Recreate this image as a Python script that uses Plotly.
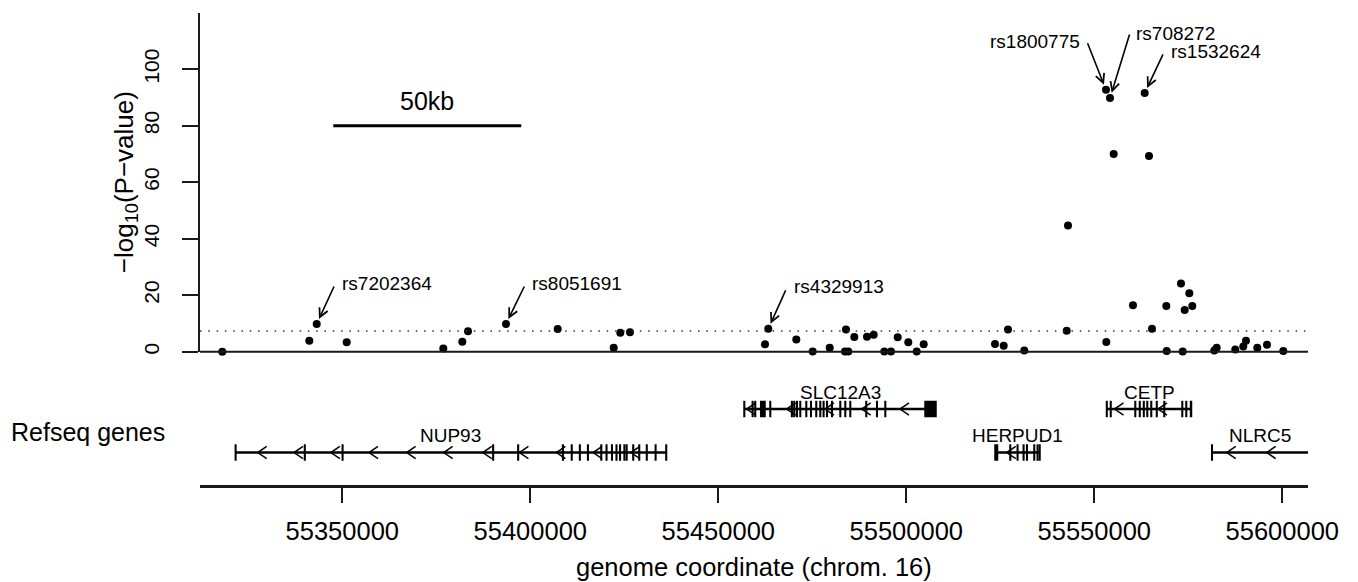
import plotly.graph_objects as go

# ---------------- data ----------------
snp_pos = [55318085, 55341223, 55343191, 55351170, 55376862, 55381915, 55383431, 55393537,
           55407287, 55422181, 55423936, 55426516, 55462420, 55463298, 55470745, 55475106,
           55479628, 55483963, 55483697, 55484574, 55486170, 55489548, 55491330, 55494149,
           55495931, 55497712, 55500532, 55502766, 55504628, 55523590, 55525904, 55527048,
           55531383, 55542660, 55543005, 55553192, 55553112, 55554176, 55555160, 55560293,
           55563404, 55564548, 55565346, 55569149, 55569255, 55573059, 55573511, 55574043,
           55575266, 55576064, 55581915, 55582553, 55587500, 55589628, 55590346, 55593351,
           55595931, 55600266]
snp_logp = [0.0, 3.9, 9.8, 3.3, 1.1, 3.5, 7.2, 9.8,
            8.0, 1.4, 6.7, 6.9, 2.6, 8.1, 4.3, 0.1,
            1.4, 7.9, 0.1, 0.1, 5.2, 5.3, 6.0, 0.1,
            0.1, 5.1, 3.3, 0.1, 2.6, 2.7, 2.1, 7.9,
            0.4, 7.4, 44.7, 3.4, 92.7, 89.8, 70.0, 16.4,
            91.6, 69.3, 8.1, 16.2, 0.25, 24.1, 0.1, 14.8,
            20.7, 16.2, 0.4, 1.4, 0.8, 1.8, 3.9, 1.4,
            2.5, 0.25]

label_snps = ["rs7202364", "rs8051691", "rs4329913", "rs1800775", "rs708272", "rs1532624"]
label_snp_pos = [55343191, 55393537, 55463298, 55553112, 55554176, 55563404]

significance = 7.3
scale_bar_start = 55347600
scale_bar_len = 50000
scale_bar_y = 80
scale_bar_text = "50kb"

x_ticks = [55350000, 55400000, 55450000, 55500000, 55550000, 55600000]
y_ticks = [0, 20, 40, 60, 80, 100]

gene_names = ["NUP93", "SLC12A3", "HERPUD1", "CETP", "NLRC5"]
gene_rows = [1, 2, 1, 2, 1]
gene_starts = [55321550, 55456840, 55523590, 55553250, 55581230]
gene_ends = [55436230, 55507900, 55535560, 55575850, 55607500]
gene_exons = {
    "NUP93": [(55321550, 55321700), (55339950, 55340100), (55350000, 55350150), (55390050, 55390200),
              (55396700, 55396850), (55408600, 55408750), (55410950, 55411100), (55413100, 55413250),
              (55415250, 55415400), (55418800, 55418950), (55420200, 55420350), (55421650, 55421800),
              (55422850, 55423000), (55423800, 55423950), (55424950, 55425100), (55425550, 55425700),
              (55427300, 55427450), (55428900, 55429050), (55430900, 55431050), (55433250, 55433400),
              (55436080, 55436230)],
    "SLC12A3": [(55456840, 55456990), (55459050, 55459200), (55459750, 55459900), (55461280, 55462420),
                (55463750, 55463900), (55469500, 55469650), (55470130, 55470280), (55470850, 55471000),
                (55471730, 55471880), (55473330, 55473480), (55474580, 55474730), (55475980, 55476130),
                (55477050, 55477200), (55477930, 55478080), (55478830, 55478980), (55480160, 55480310),
                (55482370, 55482520), (55483700, 55483850), (55485030, 55485180), (55489280, 55489430),
                (55492130, 55492280), (55494340, 55494490), (55504980, 55507900)],
    "HERPUD1": [(55523590, 55524260), (55527580, 55527730), (55529520, 55529670), (55531120, 55531270),
                (55532020, 55532170), (55533960, 55534110), (55534840, 55534990), (55535400, 55535560)],
    "CETP": [(55553250, 55553400), (55554300, 55554450), (55560830, 55560980), (55562020, 55562170),
             (55563090, 55563240), (55564020, 55564170), (55565080, 55565230), (55566540, 55566690),
             (55568540, 55568690), (55573330, 55573480), (55574390, 55574540), (55575600, 55575850)],
    "NLRC5": [(55581230, 55581380)],
}
gene_chevrons = {
    "NUP93": [55327500, 55337150, 55346950, 55357100, 55367100, 55376950, 55387350, 55397100,
              55406950, 55416700, 55426750],
    "SLC12A3": [55457550, 55468190, 55478380, 55488140, 55498330],
    "HERPUD1": [55526700],
    "CETP": [55555380, 55566940],
    "NLRC5": [55585220, 55595850],
}

# ---------------- style / layout constants ----------------
FONT = "Liberation Sans, Arial, Helvetica, sans-serif"
X_RANGE = [55312154, 55606838]
EXON_HALF = 0.172
CHEV_W = 2400
CHEV_H = 0.14
AXCOL = "#1a1a1a"

# label offsets (pixels): text shift, anchor, arrow tail
label_layout = {
    "rs7202364": dict(xs=23, ys=41, anchor="left", ax=18, ay=-39),
    "rs8051691": dict(xs=24, ys=41, anchor="left", ax=19, ay=-39),
    "rs4329913": dict(xs=24, ys=42, anchor="left", ax=18, ay=-40),
    "rs1800775": dict(xs=-24, ys=48, anchor="right", ax=-19, ay=-48),
    "rs708272": dict(xs=24, ys=65, anchor="left", ax=20, ay=-65),
    "rs1532624": dict(xs=24, ys=41, anchor="left", ax=19, ay=-40),
}

fig = go.Figure()

# association points
fig.add_trace(go.Scatter(
    x=snp_pos, y=snp_logp, mode="markers", xaxis="x", yaxis="y",
    marker=dict(color="black", size=8, line=dict(width=0)),
    cliponaxis=False, hoverinfo="x+y", showlegend=False))

# gene chevrons (strand direction)
cx, cy = [], []
for name, row in zip(gene_names, gene_rows):
    for c in gene_chevrons[name]:
        cx += [c + CHEV_W, c, c + CHEV_W, None]
        cy += [row + CHEV_H, row, row - CHEV_H, None]
fig.add_trace(go.Scatter(
    x=cx, y=cy, mode="lines", xaxis="x", yaxis="y2",
    line=dict(color="black", width=1.5), hoverinfo="skip", showlegend=False))

shapes = []
# zero line and significance line
shapes.append(dict(type="line", xref="paper", yref="y domain", x0=0, x1=1, y0=0, y1=0,
                   line=dict(color=AXCOL, width=2)))
shapes.append(dict(type="line", xref="paper", yref="y", x0=0, x1=1, y0=significance, y1=significance,
                   line=dict(color="#333333", width=1.5, dash="1.5px,6.8px")))
# scale bar
shapes.append(dict(type="line", xref="x", yref="y", x0=scale_bar_start, x1=scale_bar_start + scale_bar_len,
                   y0=scale_bar_y, y1=scale_bar_y, line=dict(color="black", width=3)))
# genes
for name, row, s, e in zip(gene_names, gene_rows, gene_starts, gene_ends):
    shapes.append(dict(type="line", xref="x", yref="y2", x0=s, x1=e, y0=row, y1=row,
                       line=dict(color="black", width=2.5)))
    for a, b in gene_exons[name]:
        shapes.append(dict(type="rect", xref="x", yref="y2", x0=a, x1=b,
                           y0=row - EXON_HALF, y1=row + EXON_HALF,
                           fillcolor="black", line=dict(color="black", width=1.5)))

annotations = []
logp_of = dict(zip(snp_pos, snp_logp))
for name, pos in zip(label_snps, label_snp_pos):
    L = label_layout[name]
    yv = logp_of[pos]
    annotations.append(dict(x=pos, y=yv, xref="x", yref="y", text="", showarrow=True,
                            ax=L["ax"], ay=L["ay"], axref="pixel", ayref="pixel",
                            arrowhead=5, arrowsize=1.1, arrowwidth=1.6, arrowcolor="black",
                            standoff=5.5))
    annotations.append(dict(x=pos, y=yv, xref="x", yref="y", text=name, showarrow=False,
                            xanchor=L["anchor"], yanchor="middle", xshift=L["xs"], yshift=L["ys"],
                            font=dict(size=19, color="black", family=FONT)))

annotations.append(dict(x=scale_bar_start + scale_bar_len / 2, y=scale_bar_y, xref="x", yref="y",
                        text=scale_bar_text, showarrow=False, yanchor="middle", yshift=25,
                        font=dict(size=25, color="black", family=FONT)))

for name, row, s, e in zip(gene_names, gene_rows, gene_starts, gene_ends):
    mid = (max(s, X_RANGE[0]) + min(e, X_RANGE[1])) / 2
    annotations.append(dict(x=mid, y=row, xref="x", yref="y2", text=name, showarrow=False,
                            yanchor="middle", yshift=17,
                            font=dict(size=19, color="black", family=FONT)))

annotations.append(dict(x=0, y=1.47, xref="paper", yref="y2", text="Refseq genes", showarrow=False,
                        xanchor="right", yanchor="middle", xshift=-33,
                        font=dict(size=25, color="black", family=FONT)))
annotations.append(dict(x=0, y=0.5, xref="paper", yref="y domain", text="\u2212log<sub>10</sub>(P\u2212value)",
                        showarrow=False, textangle=-90, xanchor="center", yanchor="middle", xshift=-75,
                        font=dict(size=26, color="black", family=FONT)))
annotations.append(dict(x=0.5, y=0, xref="paper", yref="paper", text="genome coordinate (chrom. 16)",
                        showarrow=False, xanchor="center", yanchor="middle", yshift=-82,
                        font=dict(size=25.5, color="black", family=FONT)))

fig.update_layout(
    width=1358, height=582,
    margin=dict(l=200, r=50, t=0, b=97),
    paper_bgcolor="white", plot_bgcolor="white",
    font=dict(family=FONT, color="black"),
    showlegend=False,
    shapes=shapes, annotations=annotations,
    xaxis=dict(domain=[0, 1], range=X_RANGE, anchor="y2", showline=True, linecolor=AXCOL, linewidth=2.5,
               ticks="outside", ticklen=15, tickwidth=1.5, tickcolor=AXCOL,
               tickvals=x_ticks, ticktext=[str(v) for v in x_ticks],
               tickfont=dict(size=25.5, color="black", family=FONT), ticklabelstandoff=7,
               showgrid=False, zeroline=False),
    yaxis=dict(domain=[0.27485, 0.97381], range=[0, 120], anchor="x", showline=True,
               linecolor=AXCOL, linewidth=2, ticks="outside", ticklen=16, tickwidth=2, tickcolor=AXCOL,
               tickvals=y_ticks, ticktext=[str(v) for v in y_ticks], tickangle=-90,
               tickfont=dict(size=21, color="black", family=FONT), ticklabelstandoff=15,
               showgrid=False, zeroline=False),
    yaxis2=dict(domain=[0, 0.2474], range=[0.253, 3.0115], anchor="x", visible=False,
                showgrid=False, zeroline=False),
)

fig.write_html("out.html", config={"displayModeBar": False},
               post_script="document.body.style.margin='0';document.body.style.overflow='hidden';")
